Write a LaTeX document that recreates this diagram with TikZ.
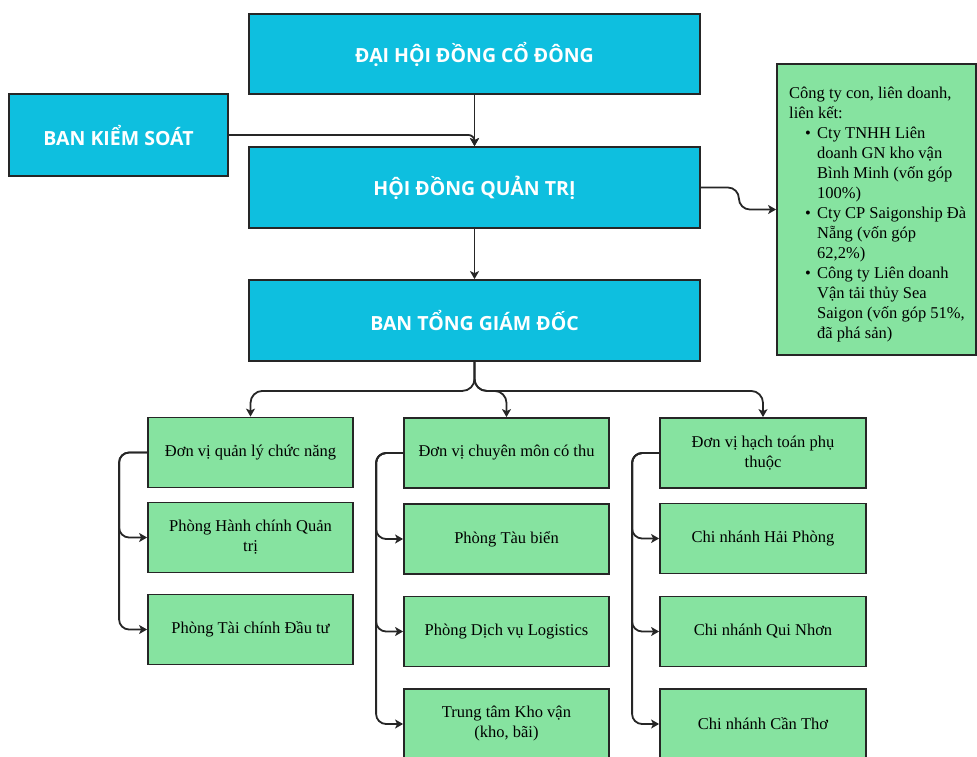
\documentclass[tikz,border=0pt]{standalone}
\usepackage{fontspec}
\setmainfont{Liberation Serif}
\newfontfamily\headfont{Open Sans}
\usetikzlibrary{arrows.meta}
\definecolor{hbl}{RGB}{14,191,223}
\definecolor{grn}{RGB}{134,227,160}
\newcommand{\bitem}{\hspace*{16pt}\makebox[12pt][l]{\textbullet}}
\newcommand{\bcont}{\hspace*{28pt}}
\begin{document}
\begin{tikzpicture}[x=1pt,y=-1pt,
  head/.style={draw=black!85, line width=1.8pt, fill=hbl, text=white, inner sep=0,
    font=\headfont\bfseries\fontsize{19.5}{23}\selectfont},
  gbox/.style={draw=black!85, line width=1.8pt, fill=grn, align=center, inner sep=0,
    minimum width=205, minimum height=70, font=\fontsize{16.5}{20}\selectfont},
  conn/.style={line width=1.8pt, draw=black!85, rounded corners=8,
    -{Stealth[length=8pt,width=9pt,inset=2pt]}}]
\useasboundingbox (0,0) rectangle (977,756);
\clip (0,0) rectangle (977,756);

% top level
\node[head, minimum width=451, minimum height=80] (dh) at (474.5,54) {ĐẠI HỘI ĐỒNG CỔ ĐÔNG};
\node[head, minimum width=219, minimum height=82] (bks) at (118.5,135) {BAN KIỂM SOÁT};
\node[head, minimum width=451, minimum height=81] (hd) at (474.5,187.5) {HỘI ĐỒNG QUẢN TRỊ};
\node[head, minimum width=451, minimum height=81] (tgd) at (474.5,320.5) {BAN TỔNG GIÁM ĐỐC};

% subsidiaries box
\node[draw=black!85, line width=1.8pt, fill=grn, minimum width=199, minimum height=291, inner sep=0] (sub) at (876.5,209.5) {};
\node[anchor=north west, inner sep=0, align=left, font=\fontsize{16.5}{20}\selectfont] (subtxt) at (789,87) {%
Công ty con, liên doanh,\\
liên kết:\\
\bitem Cty TNHH Liên\\
\bcont doanh GN kho vận\\
\bcont Bình Minh (vốn góp\\
\bcont 100\%)\\
\bitem Cty CP Saigonship Đà\\
\bcont Nẵng (vốn góp\\
\bcont 62,2\%)\\
\bitem Công ty Liên doanh\\
\bcont Vận tải thủy Sea\\
\bcont Saigon (vốn góp 51\%,\\
\bcont đã phá sản)};

% column 1
\node[gbox] (a1) at (250.5,452.5) {Đơn vị quản lý chức năng};
\node[gbox] (a2) at (250.5,537.5) {Phòng Hành chính Quản\\trị};
\node[gbox] (a3) at (250.5,629.5) {Phòng Tài chính Đầu tư};

% column 2
\node[gbox] (b1) at (506.5,453) {Đơn vị chuyên môn có thu};
\node[gbox] (b2) at (506.5,539) {Phòng Tàu biển};
\node[gbox] (b3) at (506.5,631.5) {Phòng Dịch vụ Logistics};
\node[gbox] (b4) at (506.5,724) {Trung tâm Kho vận\\(kho, bãi)};

% column 3
\node[gbox, minimum width=206] (c1) at (763,453) {Đơn vị hạch toán phụ\\thuộc};
\node[gbox, minimum width=206] (c2) at (763,538.5) {Chi nhánh Hải Phòng};
\node[gbox, minimum width=206] (c3) at (763,631.5) {Chi nhánh Qui Nhơn};
\node[gbox, minimum width=206] (c4) at (763,724) {Chi nhánh Cần Thơ};

% connectors
\draw[conn] (dh.south) -- (hd.north);
\draw[conn, rounded corners=6] (bks.east) -| (hd.north);
\draw[conn] (hd.south) -- (tgd.north);
\draw[conn, rounded corners=11] (hd.east) -- ++(38,0) |- (sub.west);

\draw[conn, rounded corners=12] (tgd.south) -- ++(0,29) -| (a1.north);
\draw[conn, rounded corners=12] (tgd.south) -- ++(0,29) -| (b1.north);
\draw[conn, rounded corners=12] (tgd.south) -- ++(0,29) -| (c1.north);

\draw[conn, rounded corners=10] (a1.west) -- ++(-28,0) |- (a2.west);
\draw[conn, rounded corners=10] (a1.west) -- ++(-28,0) |- (a3.west);

\draw[conn, rounded corners=10] (b1.west) -- ++(-27,0) |- (b2.west);
\draw[conn, rounded corners=10] (b1.west) -- ++(-27,0) |- (b3.west);
\draw[conn, rounded corners=10] (b1.west) -- ++(-27,0) |- (b4.west);

\draw[conn, rounded corners=10] (c1.west) -- ++(-27,0) |- (c2.west);
\draw[conn, rounded corners=10] (c1.west) -- ++(-27,0) |- (c3.west);
\draw[conn, rounded corners=10] (c1.west) -- ++(-27,0) |- (c4.west);
\end{tikzpicture}
\end{document}
